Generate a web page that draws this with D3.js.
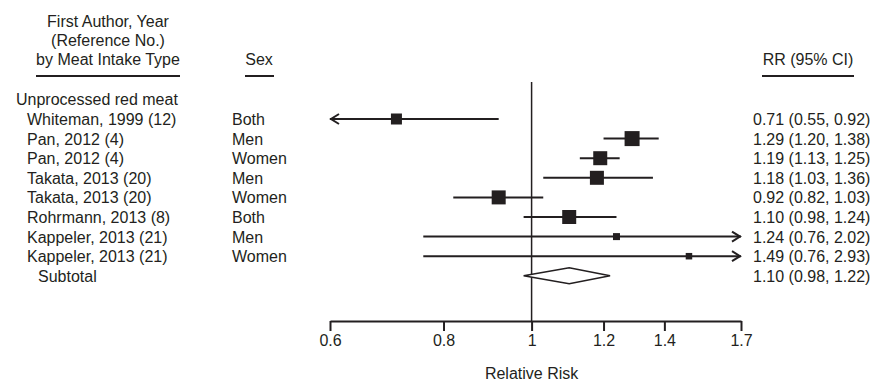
<!DOCTYPE html>
<html>
<head>
<meta charset="utf-8">
<script src="https://d3js.org/d3.v7.min.js"></script>
<style>
  body { margin: 0; background: #fff; }
  text { font-family: "Liberation Sans", Arial, sans-serif; fill: #231f20; }
</style>
</head>
<body>
<script>
// data
const studies = ["Whiteman, 1999 (12)", "Pan, 2012 (4)", "Pan, 2012 (4)", "Takata, 2013 (20)",
                 "Takata, 2013 (20)", "Rohrmann, 2013 (8)", "Kappeler, 2013 (21)", "Kappeler, 2013 (21)"];
const sexes = ["Both", "Men", "Women", "Men", "Women", "Both", "Men", "Women"];
const rr = [0.71, 1.29, 1.19, 1.18, 0.92, 1.10, 1.24, 1.49];
const lower = [0.55, 1.20, 1.13, 1.03, 0.82, 0.98, 0.76, 0.76];
const upper = [0.92, 1.38, 1.25, 1.36, 1.03, 1.24, 2.02, 2.93];
const weights = [11, 15, 14, 14, 14, 14, 7, 6.5];
const subtotal = {rr: 1.10, lo: 0.98, hi: 1.22};
const tickVals = [0.6, 0.8, 1, 1.2, 1.4, 1.7];

const width = 890, height = 386, ink = "#231f20";

const svg = d3.select("body").append("svg")
    .attr("width", width)
    .attr("height", height);

const x = d3.scaleLog().domain([0.6, 1.7]).range([330, 741]);
const y = d3.scaleLinear().domain([0, 8]).range([119, 119 + 8 * 19.6]);
const fmt = d3.format(".2f");

// headers
const hdr = svg.append("g").attr("font-size", "16px");
["First Author, Year", "(Reference No.)", "by Meat Intake Type"].forEach((t, i) => {
    hdr.append("text").attr("x", 108).attr("y", 27 + i * 19)
        .attr("text-anchor", "middle").text(t);
});
hdr.append("text").attr("x", 259).attr("y", 65).attr("text-anchor", "middle").text("Sex");
hdr.append("text").attr("x", 808).attr("y", 65).attr("text-anchor", "middle").text("RR (95% CI)");
[[36, 180], [245, 274], [762, 854]].forEach(d => {
    svg.append("line").attr("x1", d[0]).attr("x2", d[1]).attr("y1", 76).attr("y2", 76)
        .attr("stroke", ink).attr("stroke-width", 2);
});

// row labels
svg.append("text").attr("x", 16).attr("y", y(-1) + 6).attr("font-size", "16px").text("Unprocessed red meat");
const rows = svg.append("g").attr("font-size", "16px");
rows.selectAll(".study").data(studies).join("text")
    .attr("x", 27).attr("y", (d, i) => y(i) + 6).text(d => d);
rows.selectAll(".sex").data(sexes).join("text")
    .attr("x", 232).attr("y", (d, i) => y(i) + 6).text(d => d);
rows.selectAll(".ci").data(rr).join("text")
    .attr("x", 753).attr("y", (d, i) => y(i) + 6)
    .text((d, i) => `${fmt(d)} (${fmt(lower[i])}, ${fmt(upper[i])})`);
rows.append("text").attr("x", 38).attr("y", y(8) + 6).text("Subtotal");
rows.append("text").attr("x", 753).attr("y", y(8) + 6)
    .text(`${fmt(subtotal.rr)} (${fmt(subtotal.lo)}, ${fmt(subtotal.hi)})`);

// reference line at 1
svg.append("line").attr("x1", x(1)).attr("x2", x(1)).attr("y1", 82).attr("y2", 321)
    .attr("stroke", ink).attr("stroke-width", 1.5);

// CI lines with arrows where clipped
const [dmin, dmax] = x.domain();
rr.forEach((d, i) => {
    const yy = y(i);
    const x0 = x(Math.max(lower[i], dmin)), x1 = x(Math.min(upper[i], dmax));
    svg.append("line").attr("x1", x0).attr("x2", x1).attr("y1", yy).attr("y2", yy)
        .attr("stroke", ink).attr("stroke-width", 2);
    if (lower[i] < dmin) {
        svg.append("path").attr("d", `M${x0 + 9},${yy - 5}L${x0 + 1},${yy}L${x0 + 9},${yy + 5}`)
            .attr("fill", "none").attr("stroke", ink).attr("stroke-width", 2);
    }
    if (upper[i] > dmax) {
        svg.append("path").attr("d", `M${x1 - 9},${yy - 5}L${x1 - 1},${yy}L${x1 - 9},${yy + 5}`)
            .attr("fill", "none").attr("stroke", ink).attr("stroke-width", 2);
    }
    const s = weights[i];
    svg.append("rect").attr("x", x(d) - s / 2).attr("y", yy - s / 2)
        .attr("width", s).attr("height", s).attr("fill", ink);
});

// subtotal diamond
const yd = y(8);
svg.append("path")
    .attr("d", `M${x(subtotal.lo)},${yd}L${x(subtotal.rr)},${yd - 8}L${x(subtotal.hi)},${yd}L${x(subtotal.rr)},${yd + 8}Z`)
    .attr("fill", "#fff").attr("stroke", ink).attr("stroke-width", 1.5);

// axis
const axis = svg.append("g").attr("transform", "translate(0,321)")
    .call(d3.axisBottom(x).tickValues(tickVals).tickFormat(d3.format("")).tickSize(10).tickSizeOuter(0).tickPadding(4));
axis.select(".domain").attr("stroke", ink).attr("stroke-width", 2);
axis.selectAll(".tick line").attr("stroke", ink).attr("stroke-width", 2);
axis.selectAll(".tick text").attr("font-size", "16px").attr("font-family", "Liberation Sans, Arial, sans-serif").attr("fill", ink);

svg.append("text").attr("x", x(1)).attr("y", 379).attr("text-anchor", "middle")
    .attr("font-size", "16px").text("Relative Risk");
</script>
</body>
</html>
